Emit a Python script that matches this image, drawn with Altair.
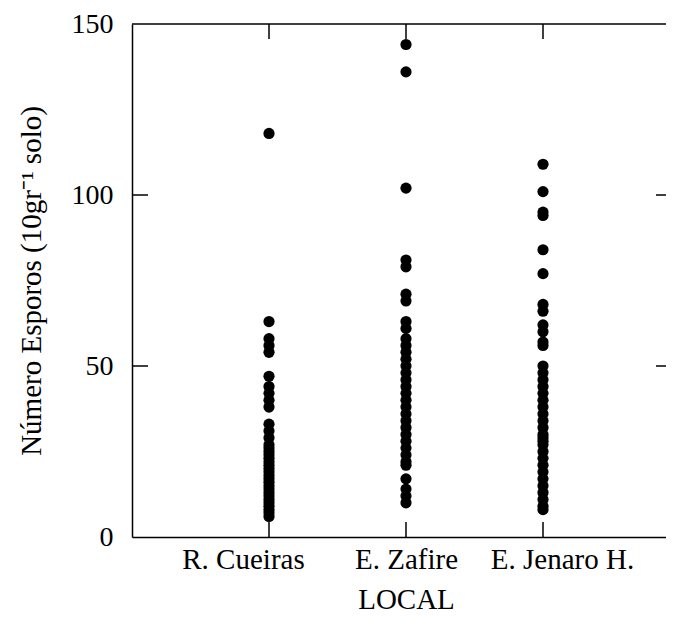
import altair as alt
import pandas as pd

sites = ["R. Cueiras", "E. Zafire", "E. Jenaro H."]
cueiras = [118, 63, 58, 56, 54, 47, 44, 42, 40, 38, 33, 31, 29, 27, 26, 25, 24,
           23, 22, 21, 20, 19, 18, 17, 16, 15, 14, 13, 12, 11, 10, 9, 8, 7, 6]
zafire = [144, 136, 102, 81, 79, 71, 69, 63, 61, 58, 56, 54, 52, 50, 48, 46, 44,
          42, 40, 38, 36, 34, 32, 30, 28, 26, 24, 22, 21, 17, 14, 12, 10]
jenaro = [109, 101, 95, 94, 84, 77, 68, 66, 62, 60, 57, 56, 50, 48, 46, 44, 42,
          40, 38, 36, 34, 32, 30, 29, 28, 27, 25, 23, 21, 19, 17, 15, 13, 11, 9, 8]
y_ticks = [0, 50, 100, 150]

rows = []
for site, vals in zip(sites, [cueiras, zafire, jenaro]):
    for v in vals:
        rows.append({"local": site, "esporos": v})
df = pd.DataFrame(rows)

FONT = "Liberation Serif"
PW = 548   # full x range (right frame edge lies past the window)
W = 534
H = 513
TICK = 15

xscale = alt.Scale(type="point", domain=sites, padding=1, range=[0, PW])
yscale = alt.Scale(domain=[0, 150], nice=False, zero=True)

xaxis = alt.Axis(title="LOCAL", ticks=False, grid=False, domain=True,
                 domainColor="black", domainWidth=1.5, labelAngle=0,
                 labelFont=FONT, labelFontSize=29, labelColor="black",
                 labelPadding=8,
                 labelOffset={"condition": [
                     {"test": "datum.value === 'R. Cueiras'", "value": -26},
                     {"test": "datum.value === 'E. Jenaro H.'", "value": 19}],
                     "value": 0},
                 titleFont=FONT, titleFontSize=29, titleFontWeight="normal",
                 titleColor="black", titlePadding=11)
yaxis = alt.Axis(title="Número Esporos (10gr⁻¹ solo)", values=y_ticks,
                 ticks=False, grid=False, domain=True, domainColor="black",
                 domainWidth=1.5, labelFont=FONT, labelFontSize=28,
                 labelColor="black", labelPadding=19,
                 titleFont=FONT, titleFontSize=29, titleFontWeight="normal",
                 titleColor="black", titlePadding=25)

X = alt.X("local:N", scale=xscale, sort=sites, axis=xaxis)
Y = alt.Y("esporos:Q", scale=yscale, axis=yaxis)

points = alt.Chart(df).mark_circle(size=125, color="black", opacity=1).encode(x=X, y=Y)

ytick_df = pd.DataFrame({"esporos": y_ticks[1:-1]})
xtick_df = pd.DataFrame({"local": sites})

left_ticks = alt.Chart(ytick_df).mark_rule(color="black", strokeWidth=1.5).encode(
    y=Y, x=alt.value(0), x2=alt.value(TICK + 1))
right_ticks = alt.Chart(ytick_df).mark_rule(color="black", strokeWidth=1.5).encode(
    y=Y, x=alt.value(W - 10), x2=alt.value(W))
bottom_ticks = alt.Chart(xtick_df).mark_rule(color="black", strokeWidth=1.5).encode(
    x=X, y=alt.value(H - TICK), y2=alt.value(H))
top_ticks = alt.Chart(xtick_df).mark_rule(color="black", strokeWidth=1.5).encode(
    x=X, y=alt.value(0), y2=alt.value(TICK))
top_line = alt.Chart(pd.DataFrame({"a": [0]})).mark_rule(color="black", strokeWidth=1.5).encode(
    x=alt.value(0), x2=alt.value(W), y=alt.value(0))

chart = alt.layer(points, left_ticks, right_ticks, bottom_ticks, top_ticks, top_line).properties(
    width=W, height=H,
    autosize=alt.AutoSizeParams(type="none"),
    padding={"left": 124, "top": 16, "right": 0, "bottom": 80},
    background="white",
).configure_view(stroke=None)

chart.save("out.html", embed_options={"renderer": "svg", "actions": False})
